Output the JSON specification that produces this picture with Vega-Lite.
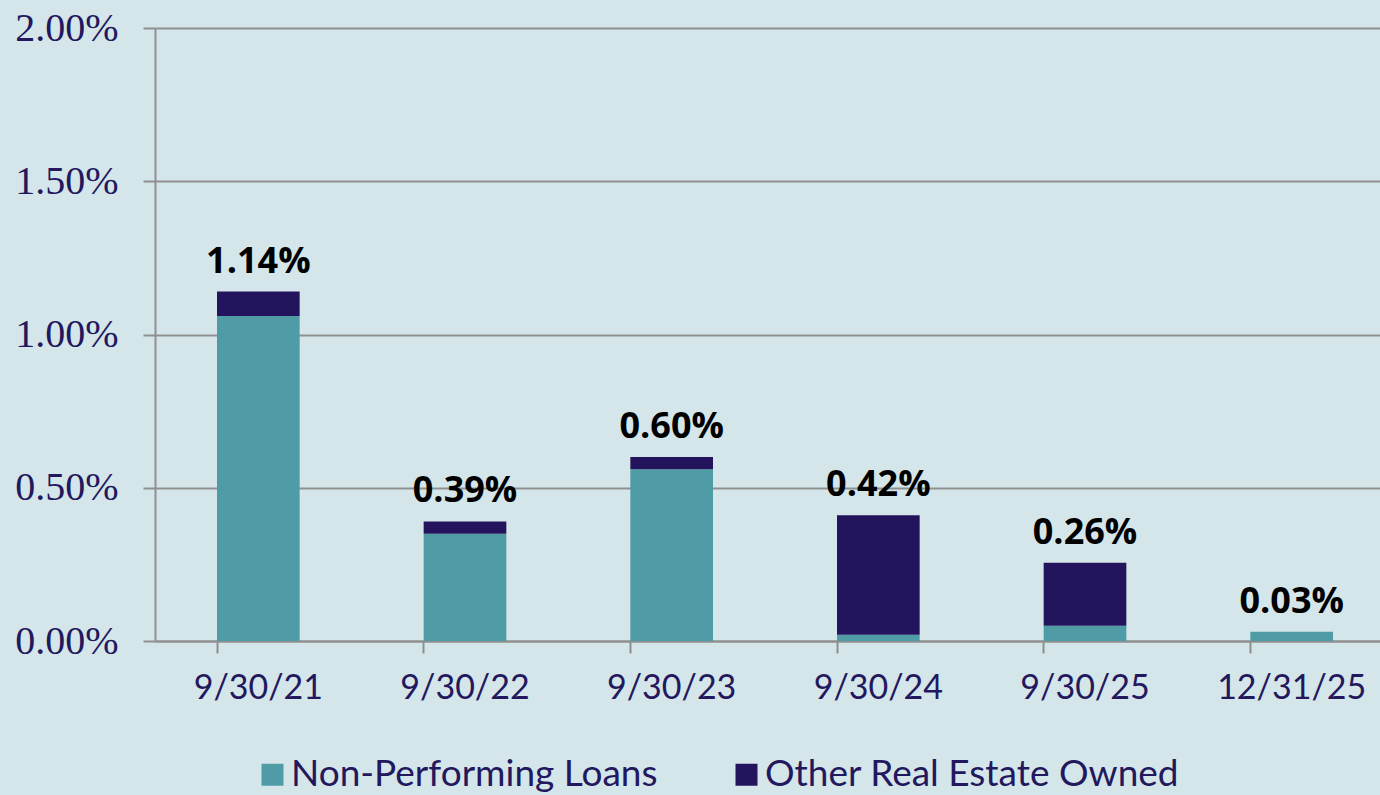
{
  "$schema": "https://vega.github.io/schema/vega-lite/v6.json",
  "width": 1225,
  "height": 613,
  "autosize": {"type": "none"},
  "padding": {"left": 155, "top": 28, "right": 0, "bottom": 154},
  "background": "#d4e6ea",
  "config": {
    "view": {"stroke": null},
    "axis": {"titleFontSize": 0}
  },
  "datasets": {
    "bars": [
      {"date": "9/30/21", "type": "Non-Performing Loans", "ord": 1, "value": 1.06},
      {"date": "9/30/21", "type": "Other Real Estate Owned", "ord": 2, "value": 0.08},
      {"date": "9/30/22", "type": "Non-Performing Loans", "ord": 1, "value": 0.35},
      {"date": "9/30/22", "type": "Other Real Estate Owned", "ord": 2, "value": 0.04},
      {"date": "9/30/23", "type": "Non-Performing Loans", "ord": 1, "value": 0.56},
      {"date": "9/30/23", "type": "Other Real Estate Owned", "ord": 2, "value": 0.04},
      {"date": "9/30/24", "type": "Non-Performing Loans", "ord": 1, "value": 0.02},
      {"date": "9/30/24", "type": "Other Real Estate Owned", "ord": 2, "value": 0.39},
      {"date": "9/30/25", "type": "Non-Performing Loans", "ord": 1, "value": 0.05},
      {"date": "9/30/25", "type": "Other Real Estate Owned", "ord": 2, "value": 0.205},
      {"date": "12/31/25", "type": "Non-Performing Loans", "ord": 1, "value": 0.03},
      {"date": "12/31/25", "type": "Other Real Estate Owned", "ord": 2, "value": 0.0}
    ],
    "labels": [
      {"date": "9/30/21", "total": 1.14, "label": "1.14%"},
      {"date": "9/30/22", "total": 0.39, "label": "0.39%"},
      {"date": "9/30/23", "total": 0.60, "label": "0.60%"},
      {"date": "9/30/24", "total": 0.41, "label": "0.42%"},
      {"date": "9/30/25", "total": 0.255, "label": "0.26%"},
      {"date": "12/31/25", "total": 0.03, "label": "0.03%"}
    ]
  },
  "encoding": {
    "x": {
      "field": "date",
      "type": "nominal",
      "sort": ["9/30/21", "9/30/22", "9/30/23", "9/30/24", "9/30/25", "12/31/25"],
      "scale": {"range": [0, 1240], "paddingInner": 0.6, "paddingOuter": 0.3},
      "axis": {
        "title": null,
        "labelAngle": 0,
        "labelFont": "Lato",
        "labelFontSize": 34,
        "labelColor": "#23185e",
        "labelPadding": 18,
        "labelBaseline": "top",
        "domainColor": "#8f8f8f",
        "domainWidth": 2,
        "tickColor": "#8f8f8f",
        "tickWidth": 2,
        "tickSize": 12,
        "bandPosition": 0,
        "grid": false
      }
    }
  },
  "layer": [
    {
      "data": {"name": "bars"},
      "mark": {"type": "bar"},
      "encoding": {
        "y": {
          "field": "value",
          "type": "quantitative",
          "stack": "zero",
          "scale": {"domain": [0, 2]},
          "axis": {
            "title": null,
            "values": [0, 0.5, 1, 1.5, 2],
            "labelExpr": "format(datum.value, '.2f') + '%'",
            "labelFont": "Liberation Serif",
            "labelFontSize": 40,
            "labelColor": "#23185e",
            "labelPadding": 25,
            "domainColor": "#8f8f8f",
            "domainWidth": 2,
            "tickColor": "#8f8f8f",
            "tickWidth": 2,
            "tickSize": 12,
            "gridColor": "#8f8f8f",
            "gridWidth": 2
          }
        },
        "color": {
          "field": "type",
          "type": "nominal",
          "scale": {
            "domain": ["Non-Performing Loans", "Other Real Estate Owned"],
            "range": ["#4f9ca6", "#24145e"]
          },
          "legend": {
            "title": null,
            "orient": "none",
            "direction": "horizontal",
            "legendX": 99,
            "legendY": 728,
            "symbolType": "square",
            "symbolSize": 484,
            "symbolStrokeWidth": 0,
            "labelFont": "Lato",
            "labelFontSize": 37,
            "labelLimit": 0,
            "labelColor": "#23185e",
            "labelOffset": 0,
            "columnPadding": 70
          }
        },
        "order": {"field": "ord", "type": "quantitative"}
      }
    },
    {
      "data": {"name": "labels"},
      "mark": {
        "type": "text",
        "font": "Open Sans",
        "fontWeight": "bold",
        "fontSize": 36,
        "color": "#000000",
        "baseline": "alphabetic",
        "dy": -19
      },
      "encoding": {
        "y": {"field": "total", "type": "quantitative"},
        "text": {"field": "label"}
      }
    }
  ]
}
